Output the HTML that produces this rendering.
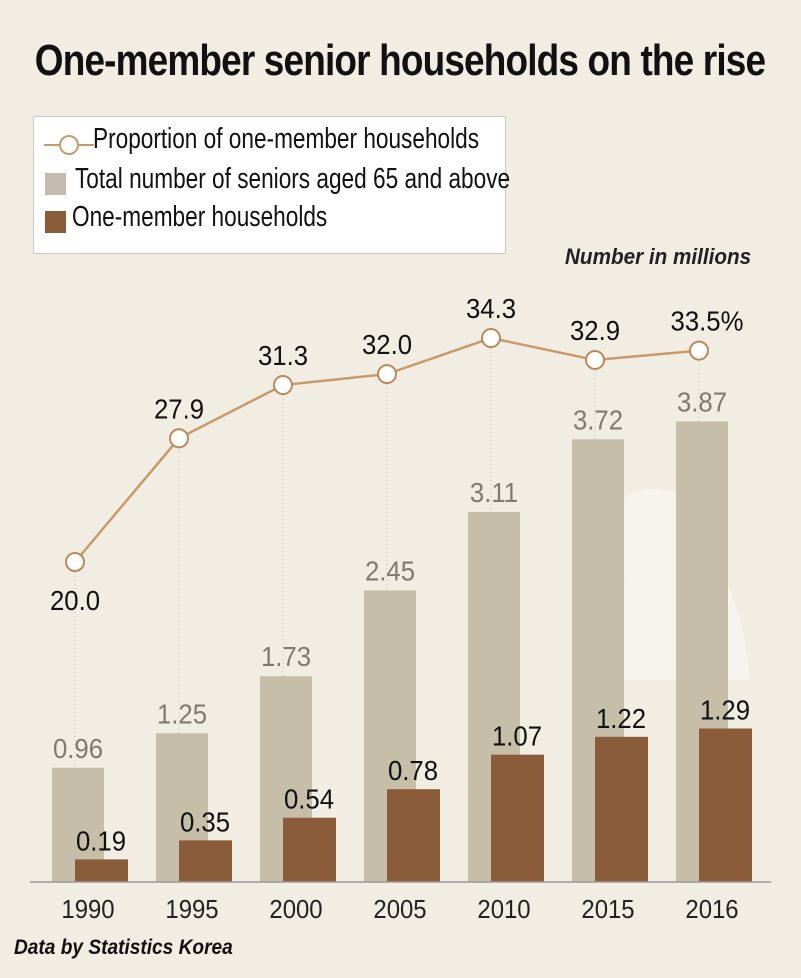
<!DOCTYPE html>
<html><head><meta charset="utf-8">
<style>
html,body{margin:0;padding:0;}
body{width:801px;height:978px;background:#f2ede2;position:relative;overflow:hidden;font-family:"Liberation Sans",sans-serif;}
#title{position:absolute;left:400px;top:36px;font-weight:bold;font-size:44px;color:#111;letter-spacing:-1px;white-space:nowrap;transform:translateX(-50%) scaleX(0.84);transform-origin:center;}
#legend{position:absolute;left:33px;top:116px;width:471px;height:136px;background:#fff;border:1px solid #c8c8c8;}
.lg{position:absolute;left:0;font-size:29px;color:#111;white-space:nowrap;transform:scaleX(0.78);transform-origin:left top;}
#src{position:absolute;left:14px;top:936px;font-size:21px;font-style:italic;font-weight:bold;color:#111;white-space:nowrap;transform:scaleX(0.91);transform-origin:left top;}
#unit{position:absolute;left:565px;top:244px;font-size:22px;font-style:italic;font-weight:bold;color:#222;white-space:nowrap;transform:scaleX(0.94);transform-origin:left top;}
svg{position:absolute;left:0;top:0;}
</style></head><body>
<div id="title">One-member senior households on the rise</div>
<div id="legend">
  <svg width="60" height="40" style="left:8px;top:8px"><line x1="2" y1="20" x2="52" y2="20" stroke="#c89a6a" stroke-width="2"/><circle cx="27" cy="20" r="9" fill="#fff" stroke="#c89a6a" stroke-width="2"/></svg>
  <div class="lg" style="left:59px;top:6px">Proportion of one-member households</div>
  <div style="position:absolute;left:11px;top:56px;width:21px;height:22px;background:#c4bdaf"></div>
  <div class="lg" style="left:41px;top:46px">Total number of seniors aged 65 and above</div>
  <div style="position:absolute;left:11px;top:94px;width:21px;height:22px;background:#8b5c3a"></div>
  <div class="lg" style="left:38px;top:84px">One-member households</div>
</div>
<div id="unit">Number in millions</div>
<svg id="chart" width="801" height="978"></svg>
<div id="src">Data by Statistics Korea</div>
<script>
const years=["1990","1995","2000","2005","2010","2015","2016"];
const totalSeniors=[0.96,1.25,1.73,2.45,3.11,3.72,3.87];
const oneMember=[0.19,0.35,0.54,0.78,1.07,1.22,1.29];
const proportion=[20.0,27.9,31.3,32.0,34.3,32.9,33.5];
const propLabels=["20.0","27.9","31.3","32.0","34.3","32.9","33.5%"];
const totalLabels=["0.96","1.25","1.73","2.45","3.11","3.72","3.87"];
const oneLabels=["0.19","0.35","0.54","0.78","1.07","1.22","1.29"];

const NS="http://www.w3.org/2000/svg";
const svg=document.getElementById('chart');
const base=882, scale=119;
const x=i=>52+i*104;
const yB=v=>base-v*scale;
const yP=v=>875.2-v*15.66;
function mk(t,a,p){const e=document.createElementNS(NS,t);for(const k in a)e.setAttribute(k,a[k]);(p||svg).appendChild(e);return e;}
const F='"Liberation Sans",sans-serif';
function txt(s,tx,ty,size,fill){
  const t=mk('text',{x:0,y:0,transform:'translate('+tx+','+ty+') scale(0.92,1)','text-anchor':'middle','font-size':size,fill:fill,'font-family':F});
  t.textContent=s;return t;
}

years.forEach((y,i)=>{
  const g=mk('line',{x1:x(i)+23,x2:x(i)+23,y1:yP(proportion[i])+10,y2:yB(totalSeniors[i]),stroke:'#bbb','stroke-width':1,'stroke-dasharray':'1,3'});
  
  
});
const sil=mk('path',{d:'M600 520 Q640 470 690 500 L700 545 Q740 580 750 680 L615 680 Q610 610 625 580 Z',fill:'#f7f4ee',opacity:0.9});


years.forEach((y,i)=>{
  const g=mk('rect',{x:x(i),y:yB(totalSeniors[i]),width:52,height:totalSeniors[i]*scale,fill:'#c7bea9'});
  
  
  const tl=txt(totalLabels[i],x(i)+26,yB(totalSeniors[i])-10,28,'#7f7a70');
  
  
  const b=mk('rect',{x:x(i)+23,y:yB(oneMember[i]),width:53,height:oneMember[i]*scale,fill:'#8b5c3a'});
  
  
  const bl=txt(oneLabels[i],x(i)+49,yB(oneMember[i])-9,28,'#111');
  
  
  const xl=txt(y,x(i)+36,918,26,'#222');
  
  
});
const ax=mk('line',{x1:30,x2:771,y1:base,y2:base,stroke:'#999','stroke-width':1.5});


const pts=proportion.map((v,i)=>(x(i)+23)+','+yP(v)).join(' ');
const pl=mk('polyline',{points:pts,fill:'none',stroke:'#c89a6a','stroke-width':2.5});


proportion.forEach((v,i)=>{
  const c=mk('circle',{cx:x(i)+23,cy:yP(v),r:9,fill:'#fff',stroke:'#b88a5e','stroke-width':2});
  
  
  const below=i===0;
  const t=txt(propLabels[i],x(i)+23+(i===6?8:0),below?yP(v)+48:yP(v)-20,28,'#111');
  
  
});
</script>
</body></html>
